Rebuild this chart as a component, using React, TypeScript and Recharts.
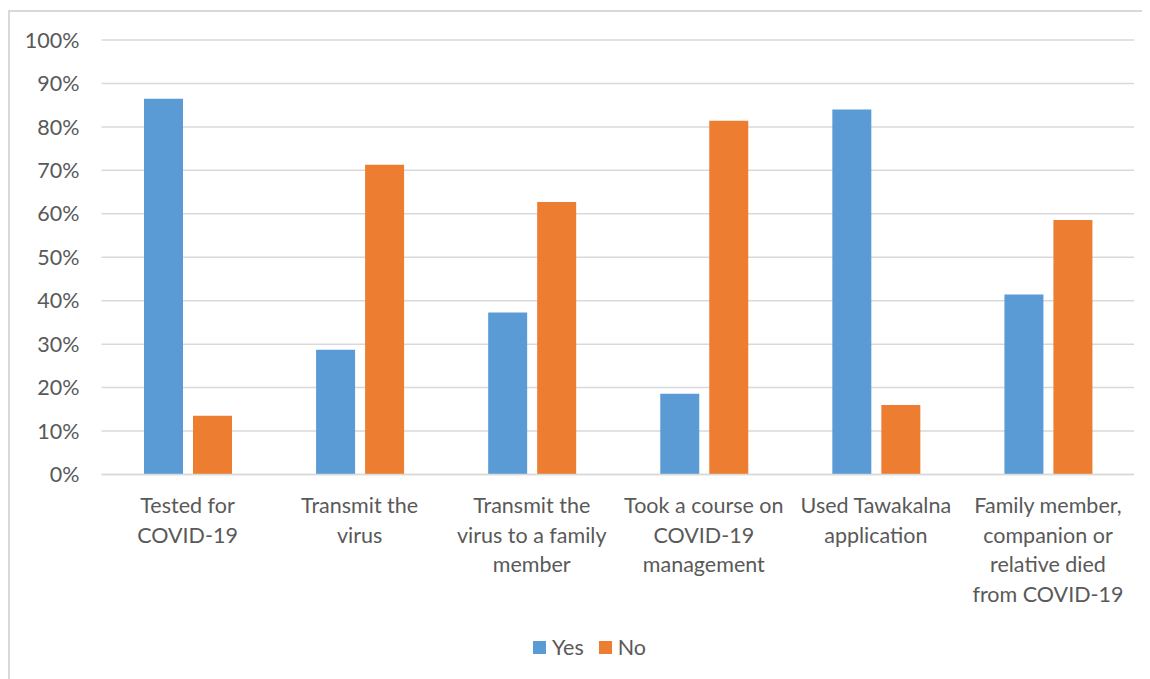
import React from 'react';
import { BarChart, Bar, XAxis, YAxis, CartesianGrid, Legend } from 'recharts';

// survey questions (line breaks as wrapped under the axis)
const questions = [
  'Tested for\nCOVID-19',
  'Transmit the\nvirus',
  'Transmit the\nvirus to a family\nmember',
  'Took a course on\nCOVID-19\nmanagement',
  'Used Tawakalna\napplication',
  'Family member,\ncompanion or\nrelative died\nfrom COVID-19',
];

// share of respondents, in %
const yesShare = [86.5, 28.7, 37.3, 18.6, 84.0, 41.4];
const noShare = [13.5, 71.3, 62.7, 81.4, 16.0, 58.6];

const percentTicks = [0, 10, 20, 30, 40, 50, 60, 70, 80, 90, 100];

const FONT = 'Lato, "Open Sans", sans-serif';
const FONT_SIZE = 21.5;
const TEXT = '#595959';
const GRID = '#d9d9d9';
const BLUE = '#5b9bd5';
const ORANGE = '#ed7d31';

const data = questions.map((q, i) => ({
  question: q,
  yes: yesShare[i],
  no: noShare[i],
}));

const QuestionTick = ({ x, y, payload }: any) => {
  const lines = String(payload.value).split('\n');
  return (
    <text
      x={x}
      y={y}
      textAnchor="middle"
      fill={TEXT}
      style={{ fontFamily: FONT, fontSize: FONT_SIZE }}
    >
      {lines.map((line, i) => (
        <tspan key={i} x={x} y={y + 31 + i * 29.5} dy="0.35em">
          {line}
        </tspan>
      ))}
    </text>
  );
};

const LegendContent = () => (
  <div
    style={{
      display: 'flex',
      alignItems: 'center',
      height: 24,
      fontFamily: FONT,
      fontSize: FONT_SIZE,
      color: TEXT,
    }}
  >
    <span style={{ width: 13, height: 13, background: BLUE, marginRight: 6 }} />
    <span style={{ marginRight: 15 }}>Yes</span>
    <span style={{ width: 13, height: 13, background: ORANGE, marginRight: 6 }} />
    <span>No</span>
  </div>
);

export default function App() {
  return (
    <div style={{ position: 'relative', width: 1142, height: 671 }}>
      {/* chart area frame */}
      <div
        style={{
          position: 'absolute',
          left: 0,
          top: 2,
          width: 1142,
          height: 669,
          borderTop: `2px solid ${GRID}`,
          borderLeft: `2px solid ${GRID}`,
          boxSizing: 'border-box',
        }}
      />
      <BarChart
        width={1142}
        height={671}
        data={data}
        margin={{ top: 32, right: 16, left: 0, bottom: 50.5 }}
        barCategoryGap={42.5}
        barGap={10}
        style={{ position: 'absolute', left: 0, top: 0 }}
      >
        <CartesianGrid vertical={false} stroke={GRID} strokeWidth={1.5} />
        <XAxis
          dataKey="question"
          height={130}
          tickLine={false}
          tickSize={0}
          tickMargin={0}
          axisLine={{ stroke: GRID, strokeWidth: 1.5 }}
          tick={<QuestionTick />}
          interval={0}
        />
        <YAxis
          width={93.5}
          domain={[0, 100]}
          ticks={percentTicks}
          tickFormatter={(v: number) => `${v}%`}
          axisLine={false}
          tickLine={false}
          tickSize={0}
          tickMargin={22}
          tick={{ fill: TEXT, fontSize: FONT_SIZE, fontFamily: FONT }}
        />
        <Legend
          content={<LegendContent />}
          wrapperStyle={{ position: 'absolute', left: 525, top: 627, width: 'auto', height: 24 }}
        />
        <Bar dataKey="yes" name="Yes" fill={BLUE} isAnimationActive={false} />
        <Bar dataKey="no" name="No" fill={ORANGE} isAnimationActive={false} />
      </BarChart>
    </div>
  );
}
